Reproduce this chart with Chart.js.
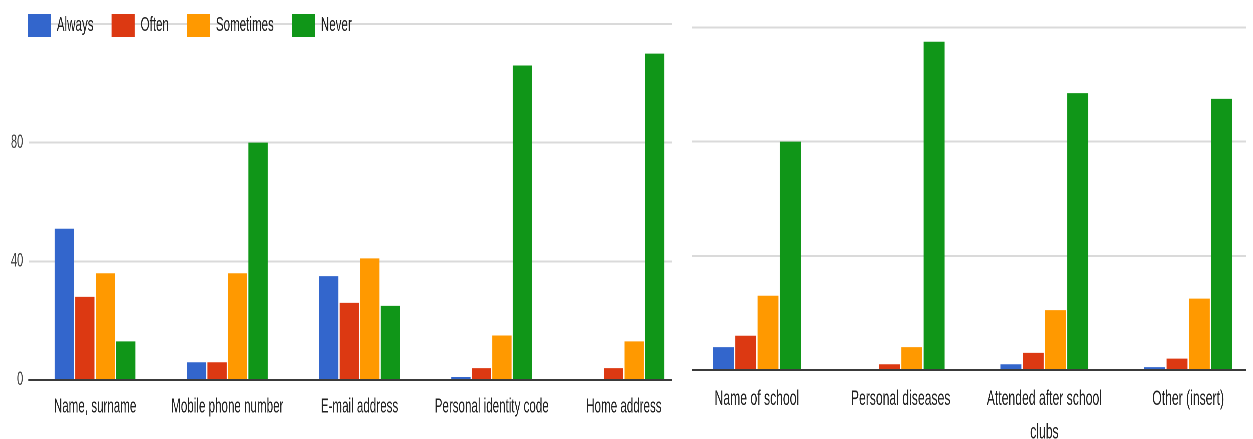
<!DOCTYPE html>
<html>
<head>
<meta charset="utf-8">
<script src="https://cdn.jsdelivr.net/npm/chart.js@4.4.1/dist/chart.umd.min.js"></script>
<style>
  html, body { margin: 0; padding: 0; background: #fff; }
  body { width: 1253px; height: 439px; position: relative; overflow: hidden; }
  .box { position: absolute; top: 0; height: 439px; overflow: hidden; }
  canvas { position: absolute; top: 0; }
</style>
</head>
<body>
<div class="box" id="leftBox" style="left:0;width:672px;">
  <canvas id="leftChart" width="1190" height="439" style="left:0;width:690.2px;height:439px;"></canvas>
</div>
<div class="box" id="rightBox" style="left:692px;width:554px;">
  <canvas id="rightChart" width="991" height="439" style="left:-6.8px;width:574.78px;height:439px;"></canvas>
</div>
<script>
// ---------------- data ----------------
const seriesNames = ['Always', 'Often', 'Sometimes', 'Never'];
const seriesColors = ['#3366cc', '#dc3912', '#ff9900', '#109618'];

const leftCategories = ['Name, surname', 'Mobile phone number', 'E-mail address', 'Personal identity code', 'Home address'];
const leftAlways    = [51, 6, 35, 1, 0];
const leftOften     = [28, 6, 26, 4, 4];
const leftSometimes = [36, 36, 41, 15, 13];
const leftNever     = [13, 80, 25, 106, 110];

const rightCategories = ['Name of school', 'Personal diseases', ['Attended after school', 'clubs'], 'Other (insert)'];
const rightAlways    = [8, 0, 2, 1];
const rightOften     = [12, 2, 6, 4];
const rightSometimes = [26, 8, 21, 25];
const rightNever     = [80, 115, 97, 95];

const yTickLabels = [0, 40, 80];
const yMax = 120;
const yStep = 40;

// ---------------- styling ----------------
Chart.defaults.font.family = "'Liberation Sans', Arial, Helvetica, sans-serif";
Chart.defaults.color = '#222';

// place the (horizontal) legend over the top gridline, as in the picture
const legendPlacer = {
  id: 'legendPlacer',
  afterLayout(chart) {
    const cfg = chart.options.plugins.legendPlacer;
    const lg = chart.legend;
    if (!cfg || !lg || !chart.options.plugins.legend.display) return;
    const w = lg.width;
    lg.left = cfg.left; lg.right = cfg.left + w;
    lg.top = cfg.top; lg.bottom = cfg.top + cfg.height;
  }
};

function buildDatasets(values) {
  return values.map((v, i) => ({
    label: seriesNames[i],
    data: v,
    backgroundColor: seriesColors[i],
    borderWidth: 0,
    categoryPercentage: 0.62,
    barPercentage: 0.94
  }));
}

function buildChart(id, categories, values, o) {
  return new Chart(document.getElementById(id), {
    type: 'bar',
    data: { labels: categories, datasets: buildDatasets(values) },
    plugins: [legendPlacer],
    options: {
      responsive: false,
      devicePixelRatio: 2,
      animation: false,
      layout: { padding: { top: o.padTop, left: 0, right: 0, bottom: 0 } },
      plugins: {
        tooltip: { enabled: false },
        legend: {
          display: o.legend,
          position: 'top',
          align: 'start',
          maxHeight: 1,
          labels: {
            boxWidth: 40, boxHeight: 23, padding: 31,
            color: '#222',
            font: { size: 20 }
          }
        },
        legendPlacer: o.legend ? { left: 17, top: -17, height: 80 } : null
      },
      scales: {
        x: {
          grid: { display: false, drawTicks: false, tickLength: 0 },
          border: { display: true, color: '#3a3a3a', width: 2, z: 1 },
          ticks: {
            autoSkip: false, maxRotation: 0, minRotation: 0,
            padding: o.xPad, color: '#222',
            font: { size: o.xFont, lineHeight: 1.6 }
          },
          afterFit(s) { s.height = o.xHeight; }
        },
        y: {
          min: 0, max: yMax,
          grid: { color: '#dadada', lineWidth: 2, drawTicks: false },
          border: { display: false },
          ticks: {
            display: o.yLabels,
            stepSize: yStep,
            padding: 10,
            color: '#444',
            font: { size: 19 },
            callback: (v) => yTickLabels.includes(v) ? String(v) : ''
          },
          afterFit(s) { s.width = o.yWidth; }
        }
      }
    }
  });
}

buildChart('leftChart', leftCategories, [leftAlways, leftOften, leftSometimes, leftNever], {
  legend: true, yLabels: true, yWidth: 50, padTop: 23, xHeight: 59, xPad: 11, xFont: 20
});
buildChart('rightChart', rightCategories, [rightAlways, rightOften, rightSometimes, rightNever], {
  legend: false, yLabels: false, yWidth: 0, padTop: 27.5, xHeight: 69, xPad: 12.5, xFont: 21
});
</script>
</body>
</html>
